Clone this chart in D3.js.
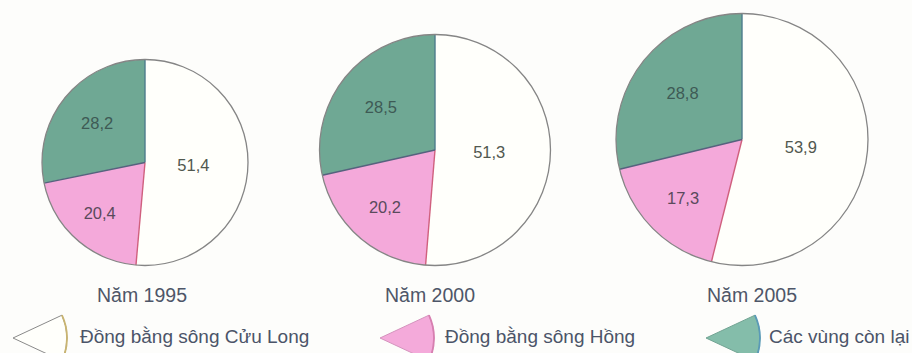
<!DOCTYPE html>
<html>
<head>
<meta charset="utf-8">
<script src="https://cdn.jsdelivr.net/npm/d3@7"></script>
<style>
  html, body { margin: 0; padding: 0; background: #fdfdfb; }
  svg { display: block; }
  text { font-family: "Liberation Sans", Arial, sans-serif; }
</style>
</head>
<body>
<svg id="chart" width="912" height="353"></svg>
<script>
// Cơ cấu theo vùng (%), ba năm
const years = ["1995", "2000", "2005"];
const regions = ["Đồng bằng sông Cửu Long", "Đồng bằng sông Hồng", "Các vùng còn lại"];
const cuuLong = [51.4, 51.3, 53.9];
const songHong = [20.4, 20.2, 17.3];
const conLai = [28.2, 28.5, 28.8];

// Layout and style
const W = 912, H = 353;
const pieCx = [145, 435, 742];
const pieR = [103, 115.5, 126];
const pieBottom = 265.5;
const titleCx = [142, 430, 752];
const titleY = 302;
const fills = ["#fffffb", "#f4a9da", "#6fa894"];
const legendFills = ["#fffffb", "#f4aada", "#84bdaa"];
const edgeColors = ["#4d7c8c", "#d0607e", "#56627e"];   // radial edge at each slice's start
const labelFrac = [0.47, 0.66, 0.6];
const labelColor = ["#51584f", "#5a4a5c", "#3e5a55"];
const legendTipX = [13, 380, 706];
const legendTextX = [80, 445, 769];
const legendY = 338;
const legendR = 54;
const legendArcColor = ["#c9b470", "#d77fb0", "#5a9ab8"];

const svg = d3.select("#chart");

const pie = d3.pie().sort(null).value(d => d.v).startAngle(0).endAngle(2 * Math.PI);

years.forEach((yr, i) => {
  const r = pieR[i];
  const cx = pieCx[i];
  const cy = pieBottom - r;
  const rows = [cuuLong[i], songHong[i], conLai[i]].map((v, k) => ({ v, k }));
  const arcs = pie(rows);
  const arc = d3.arc().innerRadius(0).outerRadius(r);

  const g = svg.append("g").attr("transform", `translate(${cx},${cy})`);

  g.selectAll("path.slice")
    .data(arcs)
    .join("path")
    .attr("class", "slice")
    .attr("d", arc)
    .attr("fill", d => fills[d.data.k]);

  // radial boundaries between slices
  g.selectAll("line.edge")
    .data(arcs)
    .join("line")
    .attr("class", "edge")
    .attr("x1", 0).attr("y1", 0)
    .attr("x2", d => r * Math.sin(d.startAngle))
    .attr("y2", d => -r * Math.cos(d.startAngle))
    .attr("stroke", d => edgeColors[d.data.k])
    .attr("stroke-width", 1.4);

  g.append("circle")
    .attr("r", r)
    .attr("fill", "none")
    .attr("stroke", "#858585")
    .attr("stroke-width", 1.3);

  g.selectAll("text.val")
    .data(arcs)
    .join("text")
    .attr("class", "val")
    .attr("transform", d => {
      const a = (d.startAngle + d.endAngle) / 2;
      const rr = r * labelFrac[d.data.k];
      return `translate(${rr * Math.sin(a)},${-rr * Math.cos(a)})`;
    })
    .attr("text-anchor", "middle")
    .attr("dy", "0.36em")
    .attr("font-size", 16.5)
    .attr("fill", d => labelColor[d.data.k])
    .text(d => d3.format(".1f")(d.data.v).replace(".", ","));

  svg.append("text")
    .attr("x", titleCx[i])
    .attr("y", titleY)
    .attr("text-anchor", "middle")
    .attr("font-size", 19.5)
    .attr("fill", "#4e5668")
    .text("Năm " + yr);
});

// Legend: small wedges pointing left
const legendArc = d3.arc().innerRadius(0).outerRadius(legendR);
const wedgeStart = (90 - 25) * Math.PI / 180;
const wedgeEnd = (90 + 25) * Math.PI / 180;

regions.forEach((name, k) => {
  const g = svg.append("g").attr("transform", `translate(${legendTipX[k]},${legendY})`);
  g.append("path")
    .attr("d", legendArc({ startAngle: wedgeStart, endAngle: wedgeEnd }))
    .attr("fill", legendFills[k])
    .attr("stroke", k === 0 ? "#8a8a8a" : d3.color(legendFills[k]).darker(0.4))
    .attr("stroke-width", 1);
  g.append("path")
    .attr("d", d3.arc()({ innerRadius: legendR, outerRadius: legendR, startAngle: wedgeStart, endAngle: wedgeEnd }))
    .attr("fill", "none")
    .attr("stroke", legendArcColor[k])
    .attr("stroke-width", 1.8);

  svg.append("text")
    .attr("x", legendTextX[k])
    .attr("y", legendY + 5)
    .attr("font-size", 19)
    .attr("fill", "#4b5468")
    .text(name);
});
</script>
</body>
</html>
